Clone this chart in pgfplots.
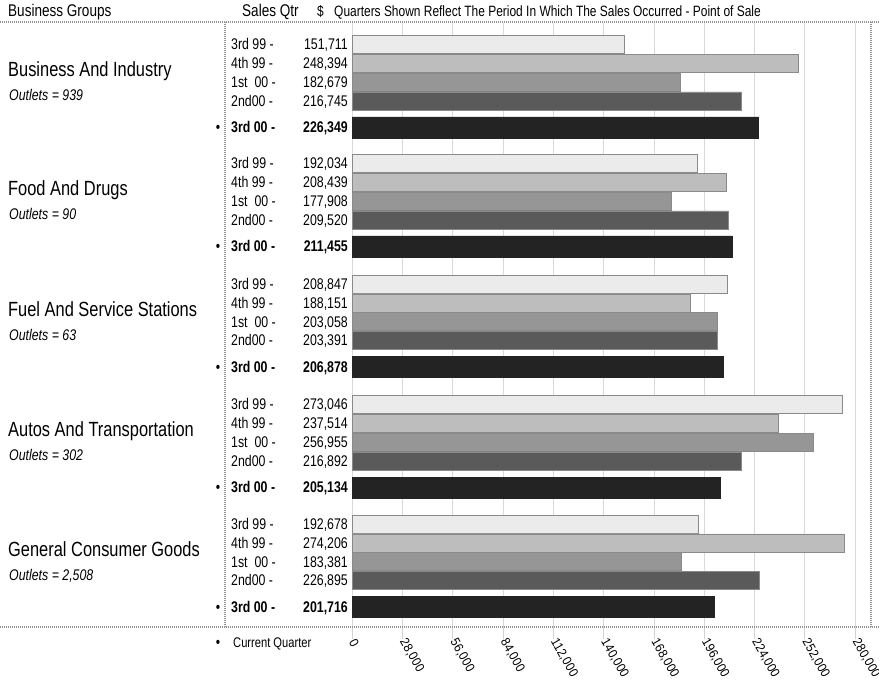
\documentclass[border=0pt]{standalone}
\usepackage{fontspec}
\setmainfont{Liberation Sans}[FakeStretch=0.8]
\newfontfamily\tickfont{Liberation Sans}[FakeStretch=0.9]
\usepackage{pgfplots}
\pgfplotsset{compat=1.18}
\usepackage{pgfplotstable}
\definecolor{cA}{HTML}{EBEBEB}
\definecolor{cB}{HTML}{BDBDBD}
\definecolor{cC}{HTML}{969696}
\definecolor{cD}{HTML}{5A5A5A}
\definecolor{cE}{HTML}{232323}
\definecolor{brd}{HTML}{8A8A8A}

\pgfplotstableread{
y v
44.5 151711
163.5 192034
284 208847
404.5 273046
524 192678
}\qA
\pgfplotstableread{
y v
63.3 248394
182.3 208439
302.8 188151
423.3 237514
542.8 274206
}\qB
\pgfplotstableread{
y v
82.1 182679
201.1 177908
321.6 203058
442.1 256955
561.6 183381
}\qC
\pgfplotstableread{
y v
100.9 216745
219.9 209520
340.4 203391
460.9 216892
580.4 226895
}\qD
\pgfplotstableread{
y v
127.5 226349
246.5 211455
367 206878
487.5 205134
607 201716
}\qE

\newcommand{\lab}{\fontsize{15.5}{16}\selectfont}
\newcommand{\grp}{\fontsize{20.6}{22}\selectfont}

\begin{document}
\begin{tikzpicture}[x=1bp,y=1bp]
\path[use as bounding box] (0,0) rectangle (879,683);
\begin{axis}[
  at={(352bp,56bp)}, anchor=south west,
  width=521bp, height=604bp, scale only axis,
  xmin=0, xmax=290000, ymin=23, ymax=627, y dir=reverse,
  axis line style={draw=none},
  ytick=\empty,
  xtick={0,28000,56000,84000,112000,140000,168000,196000,224000,252000,280000},
  xticklabels={0,{28,000},{56,000},{84,000},{112,000},{140,000},{168,000},{196,000},{224,000},{252,000},{280,000}},
  scaled x ticks=false,
  xticklabel style={rotate=-60, anchor=west, font=\tickfont\fontsize{13}{14}\selectfont, inner sep=1pt},
  xmajorgrids, major grid style={gray!30, line width=0.6pt},
  tick align=outside, xtick pos=left, major tick length=12bp,
  tick style={gray!35, line width=0.6pt},
  clip=false]
\addplot[xbar, bar shift=0pt, bar width=18, fill=cA, draw=brd, line width=0.5pt] table[x=v,y=y]{\qA};
\addplot[xbar, bar shift=0pt, bar width=18, fill=cB, draw=brd, line width=0.5pt] table[x=v,y=y]{\qB};
\addplot[xbar, bar shift=0pt, bar width=18, fill=cC, draw=brd, line width=0.5pt] table[x=v,y=y]{\qC};
\addplot[xbar, bar shift=0pt, bar width=18, fill=cD, draw=brd, line width=0.5pt] table[x=v,y=y]{\qD};
\addplot[xbar, bar shift=0pt, bar width=21, fill=cE, draw=cE, line width=0.5pt] table[x=v,y=y]{\qE};
\end{axis}

\begin{scope}[yshift=683bp, y=-1bp]
% header
\node[anchor=base west, font=\fontsize{17}{18}\selectfont, inner sep=0pt] at (8,17) {Business Groups};
\node[anchor=base west, font=\fontsize{17}{18}\selectfont, inner sep=0pt] at (242,17) {Sales Qtr};
\node[anchor=base west, font=\fontsize{15}{16}\selectfont, inner sep=0pt] at (317,17) {\$};
\node[anchor=base west, font=\fontsize{15}{16}\selectfont, inner sep=0pt] at (334,17) {Quarters Shown Reflect The Period In Which The Sales Occurred - Point of Sale};
% group names
\foreach \gc/\nm/\ou in {86.5/Business And Industry/939, 205.5/Food And Drugs/90, 326/Fuel And Service Stations/63, 446.5/Autos And Transportation/302, 566/General Consumer Goods/{2,508}} {
  \node[anchor=base west, font=\grp, inner sep=0pt] at (8,\gc-9.8) {\nm};
  \node[anchor=base west, font=\lab\itshape, inner sep=0pt] at (9,\gc+14.5) {Outlets = \ou};
}
% quarter labels
\foreach \g in {44.5,163.5,284,404.5,524} {
  \node[anchor=base west, font=\lab, inner sep=0pt] at (231,\g+5.5) {3rd 99 -};
  \node[anchor=base west, font=\lab, inner sep=0pt] at (231,\g+18.8+5.5) {4th 99 -};
  \node[anchor=base west, font=\lab, inner sep=0pt] at (231,\g+37.6+5.5) {1st\ \ 00 -};
  \node[anchor=base west, font=\lab, inner sep=0pt] at (231,\g+56.4+5.5) {2nd00 -};
  \node[anchor=base west, font=\lab\bfseries, inner sep=0pt] at (231,\g+83+5.5) {3rd 00 -};
  \node[anchor=base, font=\lab, inner sep=0pt] at (218,\g+83+5.5) {•};
}
% values
\foreach \y/\v in {44.5/{151,711},63.3/{248,394},82.1/{182,679},100.9/{216,745},
  163.5/{192,034},182.3/{208,439},201.1/{177,908},219.9/{209,520},
  284/{208,847},302.8/{188,151},321.6/{203,058},340.4/{203,391},
  404.5/{273,046},423.3/{237,514},442.1/{256,955},460.9/{216,892},
  524/{192,678},542.8/{274,206},561.6/{183,381},580.4/{226,895}} {
  \node[anchor=base east, font=\lab, inner sep=0pt] at (348,\y+5.5) {\v};
}
\foreach \y/\v in {127.5/{226,349},246.5/{211,455},367/{206,878},487.5/{205,134},607/{201,716}} {
  \node[anchor=base east, font=\lab\bfseries, inner sep=0pt] at (348,\y+5.5) {\v};
}
% footer
\node[anchor=base, font=\lab, inner sep=0pt] at (218,648) {•};
\node[anchor=base west, font=\fontsize{14}{15}\selectfont, inner sep=0pt] at (233,648) {Current Quarter};
% dotted borders
\begin{scope}[draw=gray!85, line width=2.2bp, dash pattern=on 1.1bp off 0.9bp]
\draw (0,22) -- (879,22);
\draw (0,627) -- (879,627);
\draw (225,22) -- (225,627);
\draw (871,22) -- (871,627);
\end{scope}
\end{scope}
\end{tikzpicture}
\end{document}
